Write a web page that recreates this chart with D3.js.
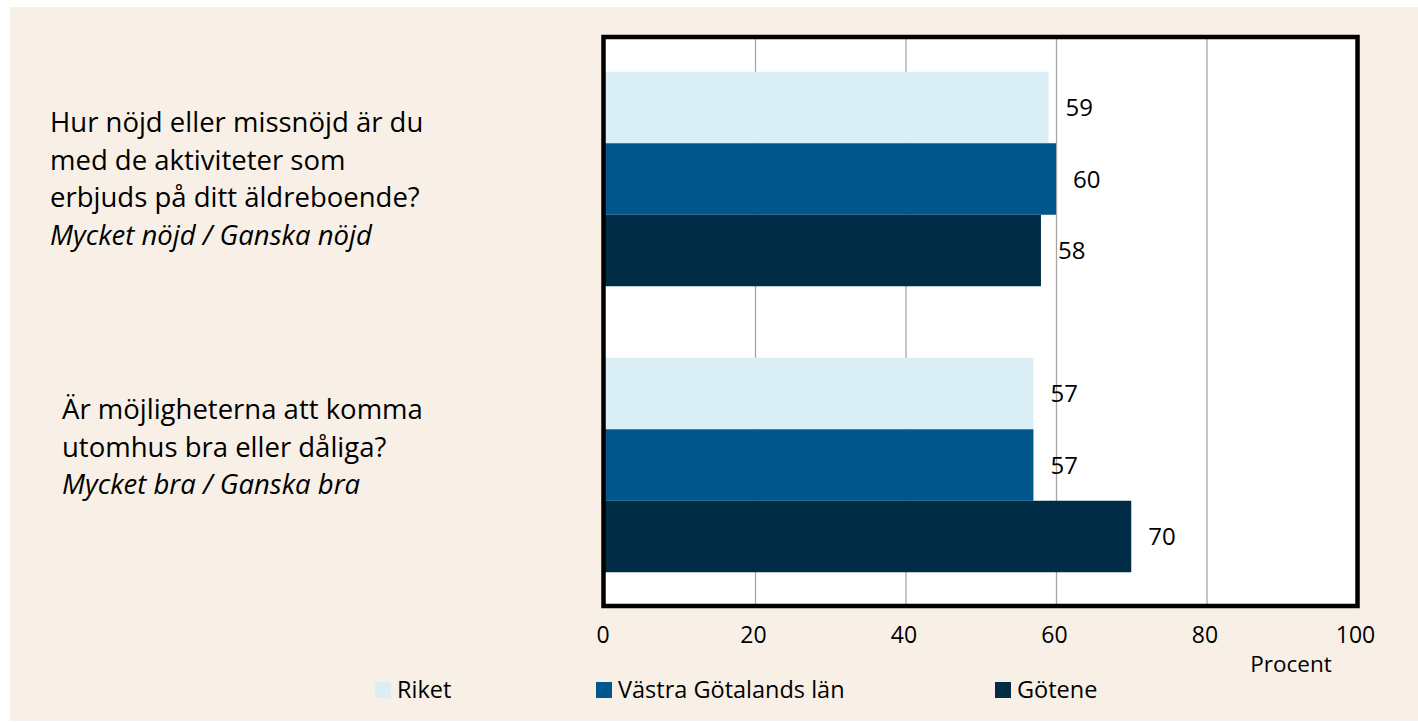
<!DOCTYPE html>
<html>
<head>
<meta charset="utf-8">
<script src="https://cdn.jsdelivr.net/npm/d3@7"></script>
<style>
  body { margin: 0; background: #ffffff; }
  svg text { font-family: "Open Sans", "Noto Sans", sans-serif; fill: #000; }
</style>
</head>
<body>
<div id="Canvas"></div>
<script>
// data
const questions = ["q1", "q2"]
const questionLines = [
  ["Hur nöjd eller missnöjd är du", "med de aktiviteter som", "erbjuds på ditt äldreboende?", "Mycket nöjd / Ganska nöjd"],
  ["Är möjligheterna att komma", "utomhus bra eller dåliga?", "Mycket bra / Ganska bra"]
]
const seriesNames = ["Riket", "Västra Götalands län", "Götene"]
const seriesColors = ["#daeef5", "#00578e", "#002c46"]
const riket = [59, 57]
const vastraGotaland = [60, 57]
const gotene = [58, 70]
const xTicks = [0, 20, 40, 60, 80, 100]

const allSeries = [riket, vastraGotaland, gotene]

//svg
let svg = d3.select("#Canvas")
  .append("svg")
  .attr("width", 1418)
  .attr("height", 722)

//背景
svg.append("rect")
  .attr("x", 10).attr("y", 7)
  .attr("width", 1408).attr("height", 714)
  .style("fill", "#f8f0e6")

//plot area
const plotLeft = 604.5, plotRight = 1357, plotTop = 37, plotBottom = 606
svg.append("rect")
  .attr("x", plotLeft).attr("y", plotTop)
  .attr("width", plotRight - plotLeft).attr("height", plotBottom - plotTop)
  .style("fill", "#ffffff")

let xScale = d3.scaleLinear().domain([0, 100]).range([plotLeft, plotRight])
let yScale = d3.scaleBand().domain(questions).range([36, 608])
  .paddingInner(0.25).paddingOuter(0.125)
let ySub = d3.scaleBand().domain(d3.range(3)).range([0, yScale.bandwidth()])

//gridlines
svg.append("g")
  .attr("transform", "translate(0," + plotBottom + ")")
  .call(d3.axisBottom(xScale).tickValues(xTicks.slice(1, -1)).tickSize(-(plotBottom - plotTop)).tickFormat(""))
  .call(g => g.select(".domain").remove())
  .call(g => g.selectAll("line").style("stroke", "#a6a6a6").style("stroke-width", 1.3))

//bars
let rows = []
questions.forEach((q, i) => {
  allSeries.forEach((s, j) => rows.push({ q: q, s: j, v: s[i] }))
})
svg.append("g")
  .selectAll("rect")
  .data(rows)
  .enter()
  .append("rect")
  .attr("x", xScale(0))
  .attr("y", d => yScale(d.q) + ySub(d.s))
  .attr("width", d => xScale(d.v) - xScale(0))
  .attr("height", ySub.bandwidth())
  .style("fill", d => seriesColors[d.s])

//value labels
svg.append("g")
  .selectAll("text")
  .data(rows)
  .enter()
  .append("text")
  .attr("x", d => xScale(d.v) + 17)
  .attr("y", d => yScale(d.q) + ySub(d.s) + ySub.bandwidth() / 2)
  .attr("dy", "0.36em")
  .style("font-size", "24px")
  .text(d => d.v)

//frame
svg.append("rect")
  .attr("x", 603.5).attr("y", 37)
  .attr("width", 754).attr("height", 569)
  .style("fill", "none")
  .style("stroke", "#000")
  .style("stroke-width", 4.5)

//x axis labels
svg.append("g")
  .attr("transform", "translate(-2," + 627 + ")")
  .call(d3.axisBottom(xScale).tickValues(xTicks).tickSize(0).tickPadding(0))
  .call(g => g.select(".domain").remove())
  .call(g => g.selectAll("text").style("font-size", "23px").style("font-family", "'Open Sans', sans-serif"))

svg.append("text")
  .attr("x", 1291).attr("y", 672)
  .attr("text-anchor", "middle")
  .style("font-size", "22.5px")
  .text("Procent")

//question labels
const labelX = [50, 62]
const labelY = [132, 419]
questionLines.forEach((lines, i) => {
  let t = svg.append("text")
    .attr("x", labelX[i]).attr("y", labelY[i])
    .style("font-size", "27.5px")
  lines.forEach((line, k) => {
    t.append("tspan")
      .attr("x", labelX[i])
      .attr("dy", k == 0 ? 0 : 37.5)
      .style("font-style", k == lines.length - 1 ? "italic" : "normal")
      .text(line)
  })
})

//legend
const legendX = [375, 596, 995]
let legend = svg.append("g")
  .selectAll("g")
  .data(seriesNames)
  .enter()
  .append("g")
  .attr("transform", (d, i) => "translate(" + legendX[i] + ",682)")
legend.append("rect")
  .attr("width", 16).attr("height", 16)
  .style("fill", (d, i) => seriesColors[i])
legend.append("text")
  .attr("x", 22).attr("y", 16)
  .style("font-size", "23.5px")
  .text(d => d)
</script>
</body>
</html>
